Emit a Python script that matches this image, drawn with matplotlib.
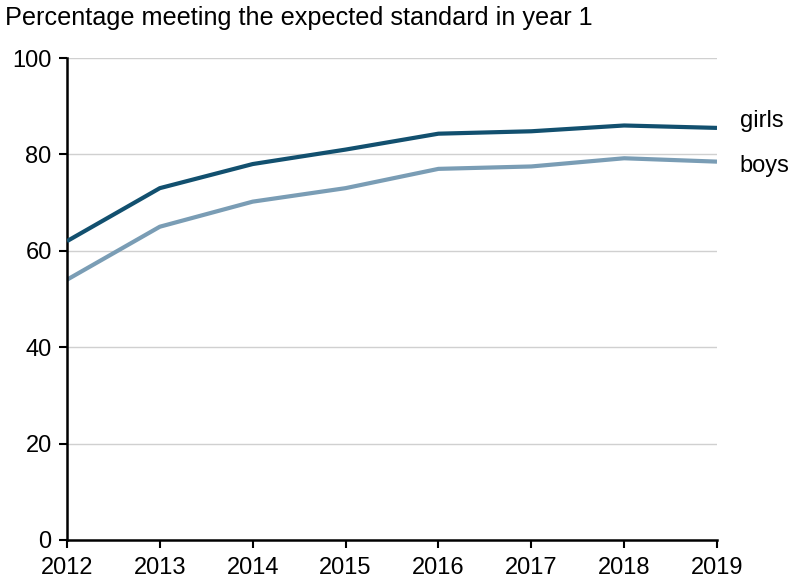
import matplotlib
matplotlib.use("Agg")
import matplotlib.pyplot as plt

years = [2012, 2013, 2014, 2015, 2016, 2017, 2018, 2019]
girls = [62, 73, 78, 81, 84.3, 84.8, 86, 85.5]
boys = [54, 65, 70.2, 73, 77, 77.5, 79.2, 78.5]
yticks = [0, 20, 40, 60, 80, 100]

plt.rcParams['font.family'] = ['Liberation Sans', 'DejaVu Sans']

fig = plt.figure(figsize=(7.9, 5.79), dpi=100)
ax = fig.add_axes([0.0848, 0.0674, 0.8228, 0.8324])

for y in yticks[1:]:
    ax.axhline(y, color='#d0d0d0', lw=1, zorder=0)

ax.plot(years, girls, color='#12506f', lw=3, solid_capstyle='butt', zorder=3)
ax.plot(years, boys, color='#7a9db5', lw=3, solid_capstyle='butt', zorder=2)

ax.set_xlim(2012, 2019)
ax.set_ylim(0, 100)
ax.set_xticks(years)
ax.set_yticks(yticks)
ax.tick_params(axis='both', labelsize=17, direction='out', length=6, width=1.5, color='black')
ax.tick_params(axis='x', pad=6)
ax.tick_params(axis='y', pad=5)

for s in ['top', 'right']:
    ax.spines[s].set_visible(False)
for s in ['left', 'bottom']:
    ax.spines[s].set_linewidth(1.8)
    ax.spines[s].set_color('black')

ax.text(1.035, girls[-1] + 1.5, 'girls', transform=ax.get_yaxis_transform(),
        fontsize=17, va='center', ha='left')
ax.text(1.035, boys[-1] - 1, 'boys', transform=ax.get_yaxis_transform(),
        fontsize=17, va='center', ha='left')

fig.text(5/790, 1 - 18/579, 'Percentage meeting the expected standard in year 1',
         fontsize=18.2, va='center', ha='left')

fig.savefig('out.png', dpi=100)
